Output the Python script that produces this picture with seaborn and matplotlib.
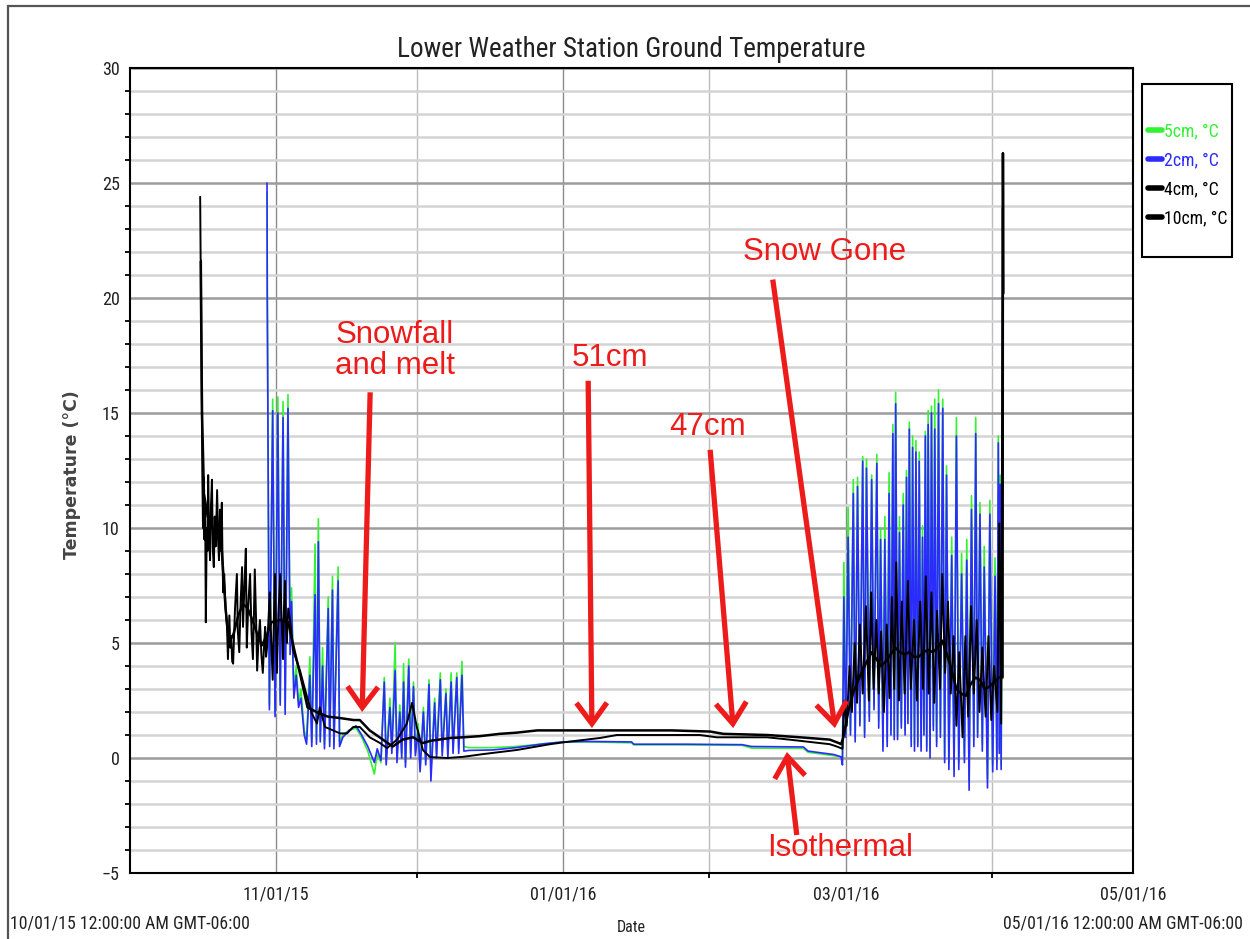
import numpy as np
import pandas as pd
import matplotlib
matplotlib.use("Agg")
import matplotlib.pyplot as plt
import matplotlib.dates as mdates
from matplotlib import font_manager as fm
from matplotlib.lines import Line2D
from matplotlib.patches import Rectangle
from matplotlib.ticker import MultipleLocator
import seaborn as sns

# ---------------------------------------------------------------------------
# Ground temperature records (days since 2015-10-01 00:00, GMT-06:00)
# ---------------------------------------------------------------------------
START = pd.Timestamp("2015-10-01")
END = pd.Timestamp("2016-05-01")

# shallow probes (2 cm and 5 cm) share one logging clock
days_shallow = [
    29.10, 29.15, 29.60, 30.30, 30.80, 31.40, 31.90, 32.50, 32.95, 33.55,
    34.00, 34.30, 34.80, 35.30, 35.80, 36.30, 37.00, 37.50, 38.20, 38.60,
    39.30, 39.60, 40.00, 40.40, 40.90, 41.30, 42.10, 42.40, 43.00, 43.30,
    44.20, 44.50, 45.20, 46.50, 48.00, 49.20, 50.50, 51.90, 52.50, 53.30,
    54.00, 54.40, 55.20, 55.60, 56.30, 56.70, 57.30, 57.70, 58.10, 58.50,
    59.20, 59.60, 60.20, 60.60, 61.20, 61.60, 62.30, 62.80, 63.50, 63.90,
    64.70, 65.10, 65.90, 66.30, 67.10, 67.50, 68.20, 68.60, 69.40, 69.80,
    70.50, 70.90,
    72.0, 77.0, 82.0, 88.0, 92.0, 97.0, 106.5, 107.0, 118.0, 130.0,
    132.0, 143.0, 144.0, 149.5, 151.0,
    151.3, 151.6, 152.0, 152.5, 153.0, 153.6, 154.0, 154.5, 155.0, 155.6,
    156.0, 156.4, 157.0, 157.5, 158.0, 158.6, 159.0, 159.4, 159.9, 160.3,
    160.8, 161.2, 161.6, 162.0, 162.3, 162.6, 163.0, 163.4, 163.8, 164.2,
    164.6, 164.9, 165.2, 165.5, 165.9, 166.2, 166.6, 166.9, 167.3, 167.6,
    168.0, 168.3, 168.6, 168.9, 169.2, 169.5, 169.9, 170.2, 170.6, 170.9,
    171.3, 171.7, 172.1, 172.6, 173.0, 173.4, 173.9, 174.5, 175.0, 175.5,
    176.0, 176.6, 177.2, 177.7, 178.2, 178.7, 179.2, 179.6, 180.0, 180.5,
    181.0, 181.4, 182.1, 182.6, 183.2, 183.7, 184.1, 184.4, 184.6, 184.8,
    185.0, 185.35, 185.4,
]

temp_2cm = [
    25.0, 20.2, 2.1, 15.1, 1.8, 15.0, 2.3, 14.8, 1.9, 15.2,
    4.5, 6.8, 2.6, 3.6, 2.2, 2.6, 1.0, 0.6, 3.6, 0.5,
    7.1, 0.6, 9.4, 0.7, 4.0, 0.4, 6.5, 0.5, 7.3, 0.4,
    7.7, 0.5, 0.9, 1.2, 1.4, 1.0, 0.5, -0.2, 0.4, -0.1,
    3.3, -0.3, 2.2, 0.2, 3.8, -0.2, 2.0, 0.0, 3.3, -0.4,
    4.0, 0.0, 3.1, 0.1, 1.2, -0.6, 2.0, -0.3, 3.2, -1.0,
    2.4, 0.0, 3.4, 0.1, 2.8, 0.0, 3.3, 0.2, 3.5, 0.2,
    3.6, 0.3,
    0.33, 0.35, 0.45, 0.62, 0.70, 0.72, 0.70, 0.60, 0.60, 0.58,
    0.50, 0.48, 0.30, 0.15, 0.05,
    -0.3, 7.0, 0.9, 9.6, 1.0, 11.5, 0.7, 11.8, 1.4, 12.9,
    0.9, 12.6, 1.6, 12.1, 2.1, 12.8, 1.3, 9.5, 0.3, 9.5,
    0.5, 11.5, 1.0, 14.1, 0.8, 15.4, 0.8, 9.8, 1.3, 11.0,
    1.0, 12.2, 1.5, 14.3, 0.5, 13.5, 0.3, 13.3, 0.5, 12.9,
    0.3, 9.6, 1.0, 14.0, 0.3, 14.5, 0.0, 15.0, 1.2, 14.3,
    0.5, 15.4, 0.9, 15.2, -0.2, 12.3, -0.5, 8.8, -0.8, 14.0,
    -0.5, 8.0, -0.2, 8.6, -1.4, 10.8, 0.5, 14.1, 0.9, 10.6,
    0.3, 8.3, -1.3, 10.6, -0.6, 7.9, -0.5, 13.7, 0.2, 11.9,
    -0.5, 24.0, 23.7,
]

temp_5cm = [
    24.6, 20.2, 2.3, 15.6, 2.0, 15.7, 2.5, 15.5, 2.1, 15.8,
    5.0, 7.4, 2.9, 4.0, 2.4, 3.0, 1.2, 0.8, 4.4, 0.7,
    9.3, 0.8, 10.4, 0.9, 4.8, 0.6, 7.0, 0.7, 7.9, 0.6,
    8.3, 0.7, 1.0, 1.2, 1.3, 0.9, 0.3, -0.7, 0.2, -0.2,
    3.5, -0.1, 2.6, 0.4, 5.0, 0.0, 2.3, 0.2, 4.1, -0.2,
    4.3, 0.2, 3.3, 0.3, 1.5, -0.5, 2.2, -0.1, 3.4, -0.6,
    2.6, 0.2, 3.7, 0.3, 3.0, 0.2, 3.7, 0.4, 3.7, 0.4,
    4.2, 0.5,
    0.45, 0.45, 0.50, 0.62, 0.70, 0.70, 0.66, 0.57, 0.57, 0.55,
    0.43, 0.42, 0.25, 0.10, 0.05,
    -0.1, 8.5, 1.1, 10.9, 1.2, 12.1, 0.9, 12.2, 1.6, 13.1,
    1.1, 13.0, 1.8, 12.3, 2.3, 13.2, 1.6, 10.0, 0.5, 10.5,
    0.7, 12.4, 1.2, 14.5, 1.0, 15.9, 1.0, 10.5, 1.5, 11.5,
    1.2, 12.5, 1.7, 14.6, 0.8, 14.0, 0.6, 13.8, 0.7, 13.3,
    0.5, 10.1, 1.2, 14.2, 0.5, 15.1, 0.3, 15.3, 1.4, 15.6,
    0.7, 16.0, 1.1, 15.6, 0.1, 12.7, -0.2, 9.6, -0.5, 14.8,
    -0.2, 8.9, 0.1, 9.5, -1.0, 11.4, 0.8, 14.8, 1.1, 11.1,
    0.6, 9.2, -0.9, 11.2, -0.3, 8.7, -0.2, 14.0, 0.4, 12.3,
    -0.3, 14.0, 13.5,
]

days_4cm = [
    14.90, 15.00, 15.10, 15.20, 15.35, 15.50, 15.65, 15.80, 15.95, 16.10,
    16.30, 16.45, 16.60, 16.80, 17.00, 17.20, 17.40, 17.60, 17.80, 18.00,
    18.20, 18.50, 18.70, 18.90, 19.10, 19.30, 19.50, 19.65, 19.80, 20.00,
    20.30, 20.60, 20.80, 21.10, 21.30, 21.50, 21.70, 21.90, 22.30, 22.70,
    22.90, 23.20, 23.50, 23.80, 24.00, 24.30, 24.60, 24.80, 25.10, 25.50,
    25.80, 26.10, 26.30, 26.50, 26.80, 27.00, 27.30, 27.60, 27.90, 28.20,
    28.50, 28.70, 28.90, 29.10, 29.40, 29.70, 30.00, 30.30, 30.55, 30.80,
    31.00, 31.20, 31.50, 31.90, 32.20, 32.50, 32.70, 32.90, 33.10, 33.30,
    33.60, 34.00, 34.60, 36.10, 37.60, 38.60, 39.70, 40.30, 41.40, 43.10,
    44.60, 46.10, 47.40, 48.80, 50.90, 53.10, 54.60, 56.70, 58.80, 59.90,
    60.90, 62.20, 63.70, 67.30, 70.70, 75.00, 82.20, 89.20, 92.80, 99.80,
    103.40, 110.00, 121.00, 124.60, 135.30, 140.00, 148.60, 150.10,
    151.3, 151.7, 152.2, 152.8, 153.3, 153.9, 154.4, 155.0, 155.6, 156.3,
    156.9, 157.4, 157.9, 158.5, 159.0, 159.5, 160.1, 160.7, 161.3, 161.8,
    162.3, 162.7, 163.3, 163.9, 164.5, 165.2, 165.8, 166.5, 167.1, 167.8,
    168.4, 169.0, 169.6, 170.2, 170.8, 171.4, 172.0, 172.5, 173.1, 173.7,
    174.3, 174.9, 175.5, 176.1, 176.8, 177.4, 178.0, 178.6, 179.2, 179.8,
    180.4, 181.0, 181.7, 182.3, 182.9, 183.5, 184.2, 184.6, 185.0, 185.35,
    185.42,
]

temp_4cm = [
    24.4, 21.7, 21.6, 16.3, 12.5, 10.0, 12.2, 9.5, 11.0, 5.9,
    10.0, 9.0, 12.3, 9.8, 8.6, 11.0, 12.1, 9.0, 8.3, 10.5,
    9.2, 11.65, 9.5, 8.6, 10.8, 9.0, 11.1, 8.5, 7.2, 8.0,
    6.5, 5.7, 4.3, 6.2, 4.8, 5.3, 4.2, 4.1, 6.5, 8.0,
    5.5, 4.6, 6.8, 8.3, 5.7, 7.5, 9.1, 4.8, 6.6, 8.0,
    5.5, 4.3, 6.0, 8.2, 5.8, 3.8, 5.2, 6.0, 4.5, 3.7,
    5.0, 5.7, 4.4, 4.8, 6.0, 7.2, 5.0, 3.4, 6.0, 8.0,
    5.5, 3.7, 6.2, 8.0, 6.0, 4.3, 6.5, 7.7, 6.0, 5.0,
    6.5, 6.0, 4.7, 3.8, 2.65, 1.95, 1.5, 2.2, 1.35, 1.2,
    1.07, 1.07, 1.35, 1.35, 0.9, 0.65, 0.43, 0.8, 1.5, 2.4,
    1.35, 0.35, 0.04, 0.0, 0.05, 0.17, 0.35, 0.6, 0.7, 0.87,
    1.0, 1.0, 1.0, 0.9, 0.9, 0.8, 0.6, 0.5,
    0.4, 2.5, 1.4, 4.0, 2.0, 5.0, 2.4, 5.8, 2.8, 6.6,
    2.5, 7.2, 3.0, 6.0, 2.8, 5.5, 2.0, 5.8, 2.6, 7.0,
    3.0, 8.5, 2.5, 6.8, 2.8, 7.7, 3.0, 6.0, 2.5, 6.8,
    3.0, 7.9, 2.8, 7.2, 2.4, 6.4, 3.0, 8.0, 3.7, 6.8,
    2.8, 5.3, 1.4, 4.6, 0.9, 5.3, 1.8, 6.6, 2.8, 6.0,
    2.0, 4.8, 1.8, 5.3, 1.65, 4.0, 2.0, 10.2, 1.5, 23.9,
    20.3,
]

days_10cm = [
    15.00, 15.30, 15.70, 16.50, 17.50, 18.50, 19.50, 20.30, 21.00, 22.00,
    23.00, 24.00, 25.00, 26.00, 27.00, 28.00, 29.00, 30.00, 32.00, 33.60,
    35.00, 36.30, 37.70, 40.00, 42.00, 44.50, 47.50, 48.80, 50.90, 53.70,
    55.80, 57.90, 60.10, 62.20, 63.90, 68.00, 70.70, 74.30, 78.50, 82.00,
    86.50, 95.00, 105.00, 115.00, 123.20, 126.00, 135.30, 142.30, 148.60, 150.50,
    151.0, 151.5, 152.5, 153.5, 154.5, 155.5, 156.5, 157.5, 158.5, 159.5,
    160.5, 161.5, 162.5, 163.5, 164.5, 165.5, 166.5, 167.5, 168.5, 169.5,
    170.5, 171.5, 172.5, 173.5, 174.5, 175.5, 176.5, 177.5, 178.5, 179.5,
    180.5, 181.5, 182.5, 183.5, 184.5, 185.3, 185.38, 185.45,
]

temp_10cm = [
    21.6, 15.0, 11.5, 10.5, 10.0, 9.8, 9.0, 6.5, 5.0, 5.4,
    6.2, 6.7, 6.5, 6.0, 5.4, 4.9, 5.3, 5.9, 6.0, 5.9,
    4.6, 3.5, 2.2, 1.96, 1.8, 1.74, 1.65, 1.65, 1.2, 0.8,
    0.5, 0.8, 0.9, 0.65, 0.75, 0.87, 0.9, 0.95, 1.05, 1.1,
    1.2, 1.2, 1.2, 1.2, 1.15, 1.05, 1.0, 0.9, 0.8, 0.65,
    0.6, 0.9, 2.0, 2.8, 3.3, 3.8, 4.2, 4.6, 4.3, 4.0,
    4.2, 4.5, 4.8, 4.6, 4.5, 4.6, 4.4, 4.4, 4.6, 4.7,
    4.6, 4.8, 5.1, 4.5, 3.8, 3.0, 2.8, 2.7, 3.2, 3.5,
    3.4, 3.0, 3.1, 3.3, 3.5, 3.5, 26.3, 20.2,
]

sensor_labels = ["5cm, °C", "2cm, °C", "4cm, °C", "10cm, °C"]
sensor_colors = ["#33f233", "#2b2bff", "#000000", "#000000"]

# annotation notes: (text, text day, text value, arrow tail day/value, arrow head day/value)
notes = [
    ("Snowfall\nand melt", 56.3, 17.7, 51.0, 15.9, 49.3, 2.0),
    ("51cm", 101.9, 17.4, 97.3, 16.4, 98.1, 1.3),
    ("47cm", 122.7, 14.4, 123.2, 13.4, 128.1, 1.3),
    ("Snow Gone", 147.6, 22.0, 136.5, 20.8, 149.7, 1.3),
    ("Isothermal", 150.8, -3.9, 141.6, -3.35, 139.5, 0.26),
]

# ---------------------------------------------------------------------------
# Fonts
# ---------------------------------------------------------------------------
sns.set_theme(style="white")
available = {f.name for f in fm.fontManager.ttflist}


def pick(*names):
    for n in names:
        if n in available:
            return n
    return "DejaVu Sans"


NARROW = pick("Liberation Sans Narrow", "Roboto Condensed", "DejaVu Sans")
SANS = pick("Liberation Sans", "Arial", "DejaVu Sans")
plt.rcParams["font.family"] = [NARROW, "DejaVu Sans"]


def to_dates(days):
    return START + pd.to_timedelta(np.asarray(days, dtype=float), unit="D")


def day_num(day):
    return mdates.date2num(to_dates([day])[0])


# ---------------------------------------------------------------------------
# Figure
# ---------------------------------------------------------------------------
W, H = 1250, 939
fig = plt.figure(figsize=(W / 100, H / 100), dpi=100)
fig.patch.set_facecolor("white")
ax = fig.add_axes([130 / W, 1 - 873 / H, (1133 - 130) / W, (873 - 68) / H])
ax.set_facecolor("white")

series = [
    (days_shallow, temp_5cm, sensor_colors[0], 1.2),
    (days_shallow, temp_2cm, sensor_colors[1], 1.2),
    (days_4cm, temp_4cm, sensor_colors[2], 1.4),
    (days_10cm, temp_10cm, sensor_colors[3], 1.8),
]
for days, temps, color, lw in series:
    df = pd.DataFrame({"date": to_dates(days), "temp": temps})
    sns.lineplot(data=df, x="date", y="temp", color=color, lw=lw,
                 estimator=None, sort=False, ax=ax, legend=False, zorder=3)

ax.set_xlim(mdates.date2num(START), mdates.date2num(END))
ax.set_ylim(-5, 30)

# grid and ticks
ax.yaxis.set_major_locator(MultipleLocator(5))
ax.yaxis.set_minor_locator(MultipleLocator(1))
ax.xaxis.set_major_locator(mdates.MonthLocator(bymonth=[11, 1, 3, 5]))
ax.xaxis.set_minor_locator(mdates.MonthLocator(bymonth=[12, 2, 4]))
ax.xaxis.set_major_formatter(mdates.DateFormatter("%m/%d/%y"))
ax.grid(which="minor", axis="y", color="#d4d4d4", lw=1.8, zorder=0)
ax.grid(which="major", axis="y", color="#9c9c9c", lw=1.8, zorder=0)
ax.grid(which="major", axis="x", color="#8c8c8c", lw=1.0, zorder=0)
ax.grid(which="minor", axis="x", color="#bcbcbc", lw=1.0, zorder=0)
ax.set_axisbelow(True)

ax.tick_params(axis="y", which="major", direction="out", length=6.5, width=1.3,
               color="black", pad=1, labelsize=13, labelcolor="#222222")
ax.tick_params(axis="y", which="minor", direction="out", length=3.6, width=1.3,
               color="black", left=True)
ax.tick_params(axis="x", which="major", direction="out", length=6, width=1.3,
               color="black", pad=3, labelsize=13, labelcolor="#222222")
ax.tick_params(axis="x", which="minor", direction="out", length=3.6, width=1.3,
               color="black", bottom=True)
for sp in ax.spines.values():
    sp.set_color("black")
    sp.set_linewidth(1.5)

ax.set_title("Lower Weather Station Ground Temperature", fontsize=19.5,
             color="#222222", pad=8)
ax.set_xlabel("Date", fontsize=11.5, color="#222222", labelpad=12)
ax.set_ylabel("Temperature (°C)", fontsize=12.5, color="#444444",
              family="DejaVu Sans", weight="bold")
ax.yaxis.set_label_coords(-0.049, 0.495)

# corner range stamps
fig.text(10 / W, 1 - 923 / H, "10/01/15 12:00:00 AM GMT-06:00", fontsize=12.8,
         color="#222222", ha="left", va="center")
fig.text(1243 / W, 1 - 923 / H, "05/01/16 12:00:00 AM GMT-06:00", fontsize=12.8,
         color="#222222", ha="right", va="center")

# annotations
RED = "#ee1b1b"
for text, tx, ty, ax0, ay0, hx, hy in notes:
    ax.text(day_num(tx), ty, text, color=RED, fontsize=22.5, family=SANS,
            ha="center", va="center", linespacing=1.05, zorder=6)
    ax.annotate("", xy=(day_num(hx), hy), xytext=(day_num(ax0), ay0),
                arrowprops=dict(arrowstyle="->,head_length=0.75,head_width=0.55",
                                color=RED, lw=3.8, mutation_scale=20,
                                shrinkA=0, shrinkB=0, joinstyle="miter",
                                capstyle="butt"),
                zorder=6)

# legend outside the plot, in a plain frame
handles = [Line2D([], [], color=c, lw=4) for c in sensor_colors]
leg = fig.legend(handles, sensor_labels, loc="upper left",
                 bbox_to_anchor=(1148 / W, 1 - 122 / H), frameon=False,
                 borderpad=0, borderaxespad=0, handlelength=0.8,
                 handletextpad=0.08, labelspacing=0.62, fontsize=12.8)
for t, c in zip(leg.get_texts(), sensor_colors):
    t.set_color(c)
fig.add_artist(Rectangle((1142 / W, 1 - 257 / H), 90 / W, 173 / H,
                         transform=fig.transFigure, fill=False,
                         ec="black", lw=1.5))

# outer border (left and top edges of the page frame)
fig.add_artist(Rectangle((8 / W, -0.1), 1.5, 1.1 - 6 / H,
                         transform=fig.transFigure, fill=False,
                         ec="#555555", lw=1.6))

fig.savefig("out.png", dpi=100, facecolor="white")
